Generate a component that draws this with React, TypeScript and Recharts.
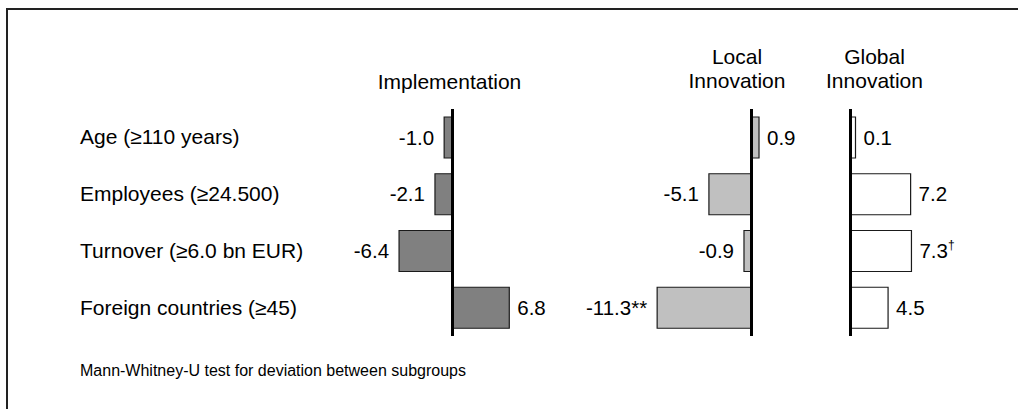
import React from "react";
import { BarChart, Bar, XAxis, YAxis, ReferenceLine, LabelList } from "recharts";

const categories = [
  "Age (\u2265110 years)",
  "Employees (\u226524.500)",
  "Turnover (\u22656.0 bn EUR)",
  "Foreign countries (\u226545)",
];
const implementation = [-1.0, -2.1, -6.4, 6.8];
const localInnovation = [0.9, -5.1, -0.9, -11.3];
const globalInnovation = [0.1, 7.2, 7.3, 4.5];
const localMarks = ["", "", "", "**"];
const globalMarks = ["", "", "\u2020", ""];

const data = categories.map((name, i) => ({
  name,
  impl: implementation[i],
  local: localInnovation[i],
  global: globalInnovation[i],
}));

const W = 1018;
const H = 409;
const FONT = '"Liberation Sans", Arial, Helvetica, sans-serif';

// plot area and shared scale for the three panels
const PLOT_LEFT = 340;
const PLOT_RIGHT = 1000;
const PX_PER_UNIT = 8.35;
const span = (PLOT_RIGHT - PLOT_LEFT) / PX_PER_UNIT;
const domainFor = (zeroX: number): [number, number] => {
  const min = -(zeroX - PLOT_LEFT) / PX_PER_UNIT;
  return [min, min + span];
};

const makeLabel = (marks: string[] | null) => (props: any) => {
  const { x, y, width, height, value, index } = props;
  const left = Math.min(x, x + width);
  const right = Math.max(x, x + width);
  const cy = y + height / 2 + 7;
  const mark = marks ? marks[index] : "";
  const neg = value < 0;
  const sup = mark === "\u2020";
  return (
    <text
      x={neg ? left - 10 : right + 8}
      y={cy}
      textAnchor={neg ? "end" : "start"}
      fontFamily={FONT}
      fontSize={20.5}
      fill="#000"
    >
      <tspan>{Number(value).toFixed(1)}</tspan>
      {mark && !sup && <tspan>{mark}</tspan>}
      {sup && (
        <tspan fontSize={12} dy={-9}>
          {mark}
        </tspan>
      )}
    </text>
  );
};

const RowTick = (props: any) => {
  const { y, payload } = props;
  return (
    <text x={80} y={y + 7} textAnchor="start" fontFamily={FONT} fontSize={21} fill="#000">
      {payload.value}
    </text>
  );
};

const barStyle = { stroke: "#1a1a1a", strokeWidth: 1.2 };

export default function App() {
  return (
    <div style={{ position: "absolute", left: 0, top: 0, width: W, height: H, background: "#fff" }}>
      <BarChart
        width={W}
        height={H}
        data={data}
        layout="vertical"
        margin={{ top: 109, right: W - PLOT_RIGHT, bottom: 73, left: 0 }}
        barGap={-41}
      >
        <XAxis xAxisId="impl" type="number" domain={domainFor(452.5)} allowDataOverflow hide />
        <XAxis xAxisId="local" type="number" domain={domainFor(751.5)} allowDataOverflow hide />
        <XAxis xAxisId="global" type="number" domain={domainFor(850.5)} allowDataOverflow hide />
        <YAxis
          type="category"
          dataKey="name"
          width={PLOT_LEFT}
          axisLine={false}
          tickLine={false}
          tick={<RowTick />}
        />
        <Bar dataKey="impl" xAxisId="impl" barSize={41} fill="#808080" {...barStyle} isAnimationActive={false}>
          <LabelList dataKey="impl" content={makeLabel(null)} />
        </Bar>
        <Bar dataKey="local" xAxisId="local" barSize={41} fill="#c0c0c0" {...barStyle} isAnimationActive={false}>
          <LabelList dataKey="local" content={makeLabel(localMarks)} />
        </Bar>
        <Bar
          dataKey="global"
          xAxisId="global"
          barSize={41}
          fill="#ffffff"
          minPointSize={5}
          {...barStyle}
          isAnimationActive={false}
        >
          <LabelList dataKey="global" content={makeLabel(globalMarks)} />
        </Bar>
        <ReferenceLine x={0} xAxisId="impl" stroke="#000" strokeWidth={3} />
        <ReferenceLine x={0} xAxisId="local" stroke="#000" strokeWidth={3} />
        <ReferenceLine x={0} xAxisId="global" stroke="#000" strokeWidth={3} />
      </BarChart>
      <svg
        width={W}
        height={H}
        style={{ position: "absolute", left: 0, top: 0, pointerEvents: "none" }}
        fontFamily={FONT}
      >
        <line x1={7} y1={9} x2={W} y2={9} stroke="#222" strokeWidth={2} />
        <line x1={7} y1={8} x2={7} y2={H} stroke="#222" strokeWidth={2} />
        <text x={449.5} y={88.5} textAnchor="middle" fontSize={21}>Implementation</text>
        <text x={737} y={63.5} textAnchor="middle" fontSize={21}>Local</text>
        <text x={737} y={88} textAnchor="middle" fontSize={21}>Innovation</text>
        <text x={874.5} y={63.5} textAnchor="middle" fontSize={21}>Global</text>
        <text x={874.5} y={88} textAnchor="middle" fontSize={21}>Innovation</text>
        <text x={80} y={376} fontSize={16}>Mann-Whitney-U test for deviation between subgroups</text>
      </svg>
    </div>
  );
}
